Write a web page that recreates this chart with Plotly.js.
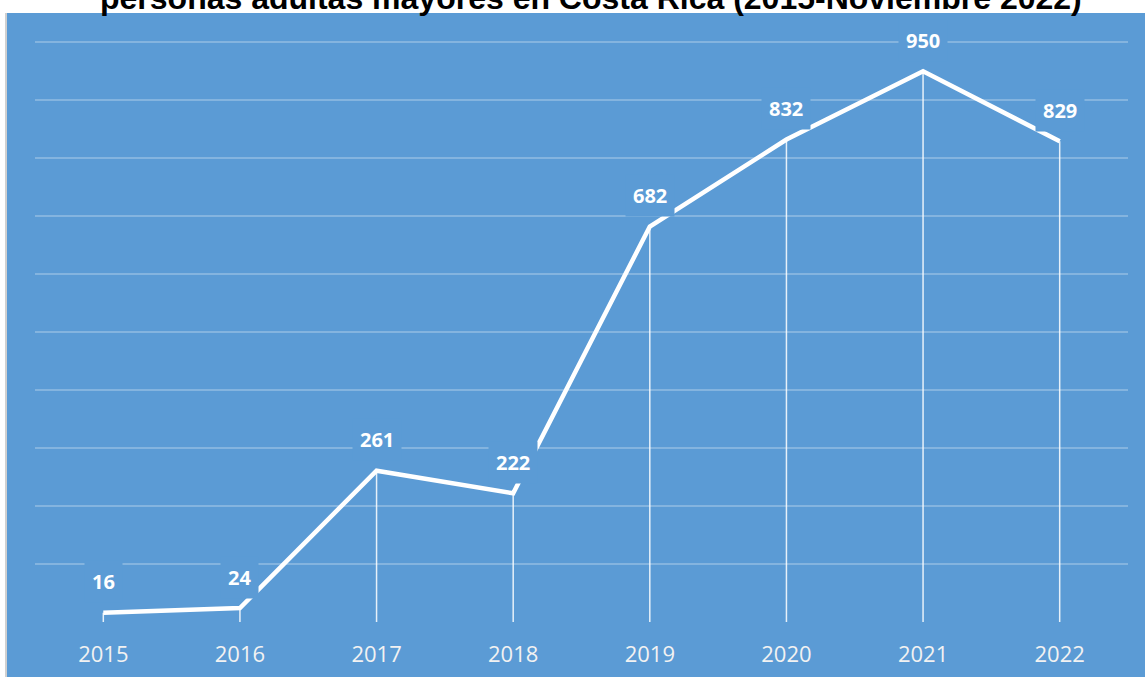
<!DOCTYPE html>
<html>
<head>
<meta charset="utf-8">
<script src="https://cdn.plot.ly/plotly-3.0.1.min.js"></script>
<style>html,body{margin:0;padding:0;background:#fff;}#chart{width:1145px;height:677px;}</style>
</head>
<body>
<div id="chart"></div>
<script>
const titleText = "personas adultas mayores en Costa Rica (2015-Noviembre 2022)";
const years = ["2015", "2016", "2017", "2018", "2019", "2020", "2021", "2022"];
const values = [16, 24, 261, 222, 682, 832, 950, 829];

const BLUE = "#5B9BD5";

const lineTrace = {
  type: "scatter",
  mode: "lines",
  x: years,
  y: values,
  line: { color: "#ffffff", width: 4.5 },
  error_y: {
    type: "data",
    symmetric: false,
    array: values.map(() => 0),
    arrayminus: values,
    width: 0,
    thickness: 1.5,
    color: "rgba(255,255,255,0.85)"
  },
  hoverinfo: "x+y"
};

// category index used for annotation placement (numeric-looking category names)
const labelAnnotations = years.map((yr, i) => ({
  x: i,
  y: values[i],
  xref: "x",
  yref: "y",
  text: "<b>" + values[i] + "</b>",
  showarrow: false,
  yshift: 31,
  bgcolor: BLUE,
  borderpad: 7,
  font: { family: "Open Sans, sans-serif", size: 20, color: "#ffffff" }
}));

const PH = 581;
const layout = {
  width: 1145,
  height: 677,
  margin: { l: 35, r: 17, t: 41, b: 55 },
  paper_bgcolor: "#ffffff",
  plot_bgcolor: "rgba(0,0,0,0)",
  showlegend: false,
  xaxis: {
    type: "category",
    range: [-0.5, 7.5],
    showgrid: false,
    zeroline: false,
    showline: false,
    ticks: "outside",
    ticklen: 13,
    tickcolor: "rgba(0,0,0,0)",
    tickfont: { family: "Open Sans, sans-serif", size: 22, color: "#f2f2f2" },
    fixedrange: true
  },
  yaxis: {
    range: [0, 1002],
    dtick: 100,
    showgrid: true,
    gridcolor: "rgba(255,255,255,0.25)",
    gridwidth: 1.5,
    zeroline: false,
    showline: false,
    showticklabels: false,
    ticks: "",
    fixedrange: true
  },
  shapes: [
    {
      type: "rect", xref: "paper", yref: "paper", layer: "below",
      x0: (7 - 35) / 1093, x1: (1145 - 35) / 1093,
      y0: -55 / PH, y1: (622 - 13) / PH,
      fillcolor: BLUE, line: { width: 0 }
    },
    {
      type: "line", xref: "paper", yref: "paper", layer: "below",
      x0: (6 - 35) / 1093, x1: (6 - 35) / 1093,
      y0: -55 / PH, y1: (622 - 13) / PH,
      line: { color: "#d0d0d0", width: 2 }
    }
  ],
  annotations: [
    {
      xref: "paper", yref: "paper",
      x: (591 - 35) / 1093, xanchor: "center",
      y: (622 + 1.5) / PH, yanchor: "middle",
      text: "<b>" + titleText + "</b>",
      showarrow: false,
      font: { family: "Liberation Sans, Arial, sans-serif", size: 32, color: "#000000" }
    }
  ].concat(labelAnnotations)
};

Plotly.newPlot("chart", [lineTrace], layout, { displayModeBar: false, staticPlot: true });
</script>
</body>
</html>
